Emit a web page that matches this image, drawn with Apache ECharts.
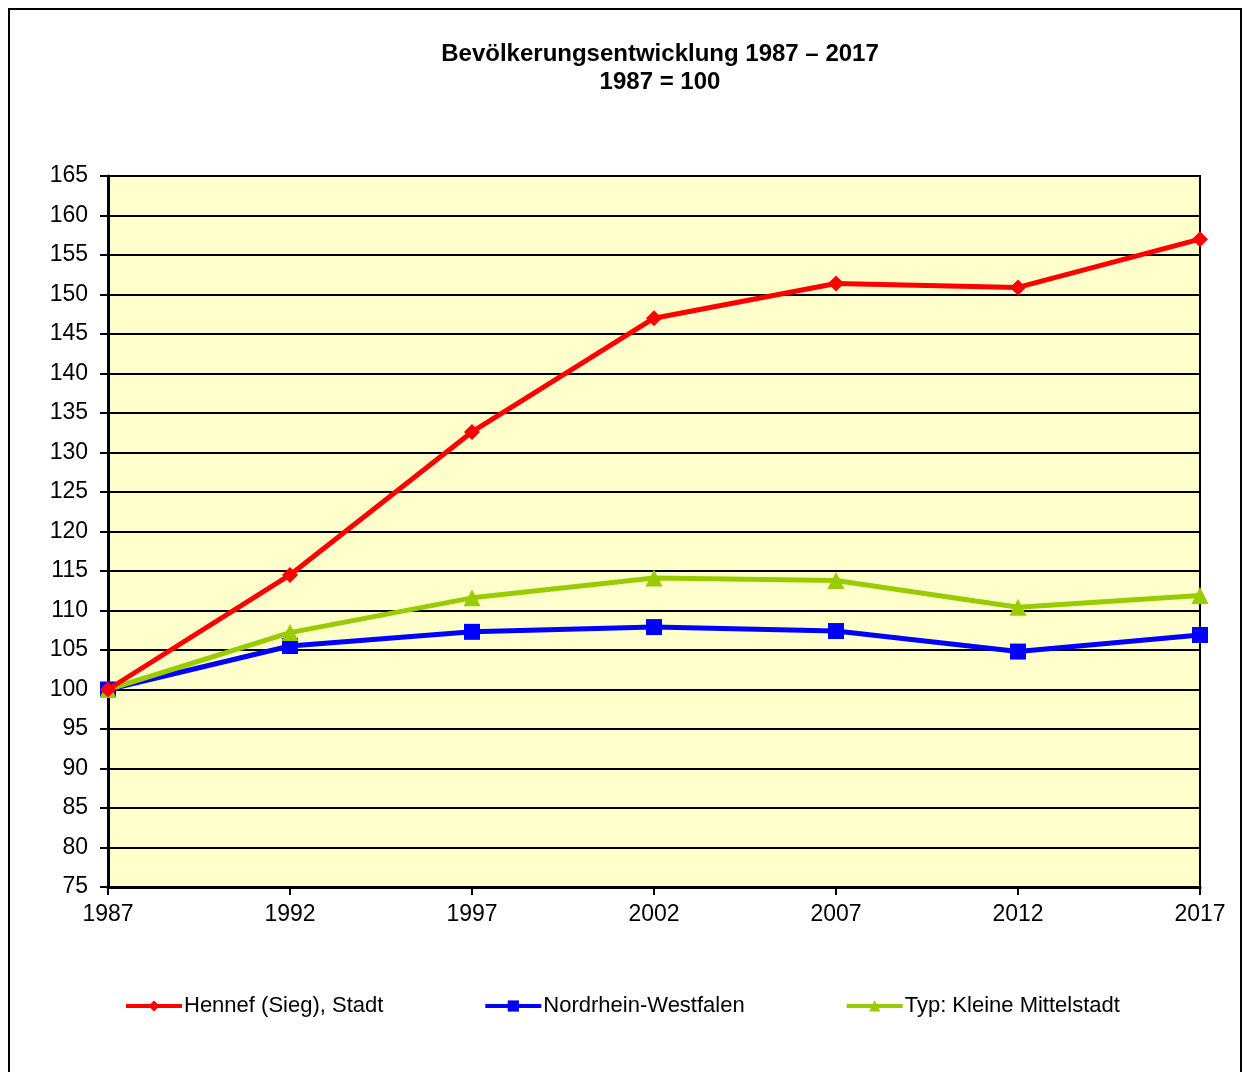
<!DOCTYPE html>
<html>
<head>
    <meta charset="utf-8">
    <script type="text/javascript" src="https://cdn.jsdelivr.net/npm/echarts@6/dist/echarts.min.js"></script>
    <style type="text/css">
        *{
            margin: 0;
            padding: 0;
        }
        #main{
            width: 1244px;
            height: 1072px;
        }
    </style>
</head>
<body>
<div id="main"></div>
<script type="text/javascript">
    // Jahre und Indexwerte (1987 = 100)
    var years = ['1987', '1992', '1997', '2002', '2007', '2012', '2017'];
    var hennef = [100, 114.5, 132.6, 147.0, 151.4, 150.9, 157.0];
    var nrw = [100, 105.5, 107.3, 107.9, 107.4, 104.8, 106.9];
    var kleineMittelstadt = [100, 107.2, 111.6, 114.1, 113.8, 110.4, 111.9];

    var myChart = echarts.init(document.getElementById('main'));
    var font = 'Arial, "Liberation Sans", sans-serif';

    var option = {
        backgroundColor: '#fff',
        textStyle: {fontFamily: font},
        graphic: [{
            type: 'rect',
            shape: {x: 9, y: 9, width: 1232, height: 1100},
            style: {fill: 'none', stroke: '#000', lineWidth: 2},
            silent: true
        }],
        title: {
            text: 'Bevölkerungsentwicklung 1987 – 2017\n1987 = 100',
            left: 655,
            top: 35,
            textAlign: 'center',
            textStyle: {
                fontFamily: font,
                fontSize: 24,
                fontWeight: 'bold',
                color: '#000',
                lineHeight: 28
            }
        },
        legend: {
            left: 119,
            top: 990,
            itemWidth: 56,
            itemHeight: 14,
            itemGap: 100,
            lineStyle: {width: 4},
            textStyle: {fontFamily: font, fontSize: 22, color: '#000', padding: [0, 0, 0, -3]},
            data: ['Hennef (Sieg), Stadt', 'Nordrhein-Westfalen', 'Typ: Kleine Mittelstadt']
        },
        grid: {
            left: 108,
            right: 44,
            top: 176,
            bottom: 185,
            show: true,
            backgroundColor: '#FFFFCC',
            borderColor: '#000',
            borderWidth: 2
        },
        xAxis: {
            type: 'category',
            data: years,
            boundaryGap: false,
            axisLine: {lineStyle: {color: '#000', width: 3}},
            axisTick: {show: true, length: 8, alignWithLabel: true, lineStyle: {color: '#000', width: 2}},
            axisLabel: {fontFamily: font, fontSize: 23, color: '#000', margin: 16}
        },
        yAxis: {
            type: 'value',
            min: 75,
            max: 165,
            interval: 5,
            axisLine: {show: true, lineStyle: {color: '#000', width: 3}},
            axisTick: {show: true, length: 8, lineStyle: {color: '#000', width: 2}},
            axisLabel: {fontFamily: font, fontSize: 23, color: '#000', margin: 20},
            splitLine: {show: true, lineStyle: {color: '#000', width: 2}}
        },
        series: [
            {
                name: 'Nordrhein-Westfalen',
                type: 'line',
                data: nrw,
                symbol: 'rect',
                symbolSize: 16,
                lineStyle: {color: '#0000FF', width: 5},
                itemStyle: {color: '#0000FF'},
                z: 3
            },
            {
                name: 'Typ: Kleine Mittelstadt',
                type: 'line',
                data: kleineMittelstadt,
                symbol: 'triangle',
                symbolSize: 17,
                lineStyle: {color: '#99CC00', width: 5},
                itemStyle: {color: '#99CC00'},
                z: 4
            },
            {
                name: 'Hennef (Sieg), Stadt',
                type: 'line',
                data: hennef,
                symbol: 'diamond',
                symbolSize: 16,
                lineStyle: {color: '#FF0000', width: 5},
                itemStyle: {color: '#FF0000'},
                z: 5
            }
        ]
    };

    myChart.setOption(option);
</script>
</body>
</html>
